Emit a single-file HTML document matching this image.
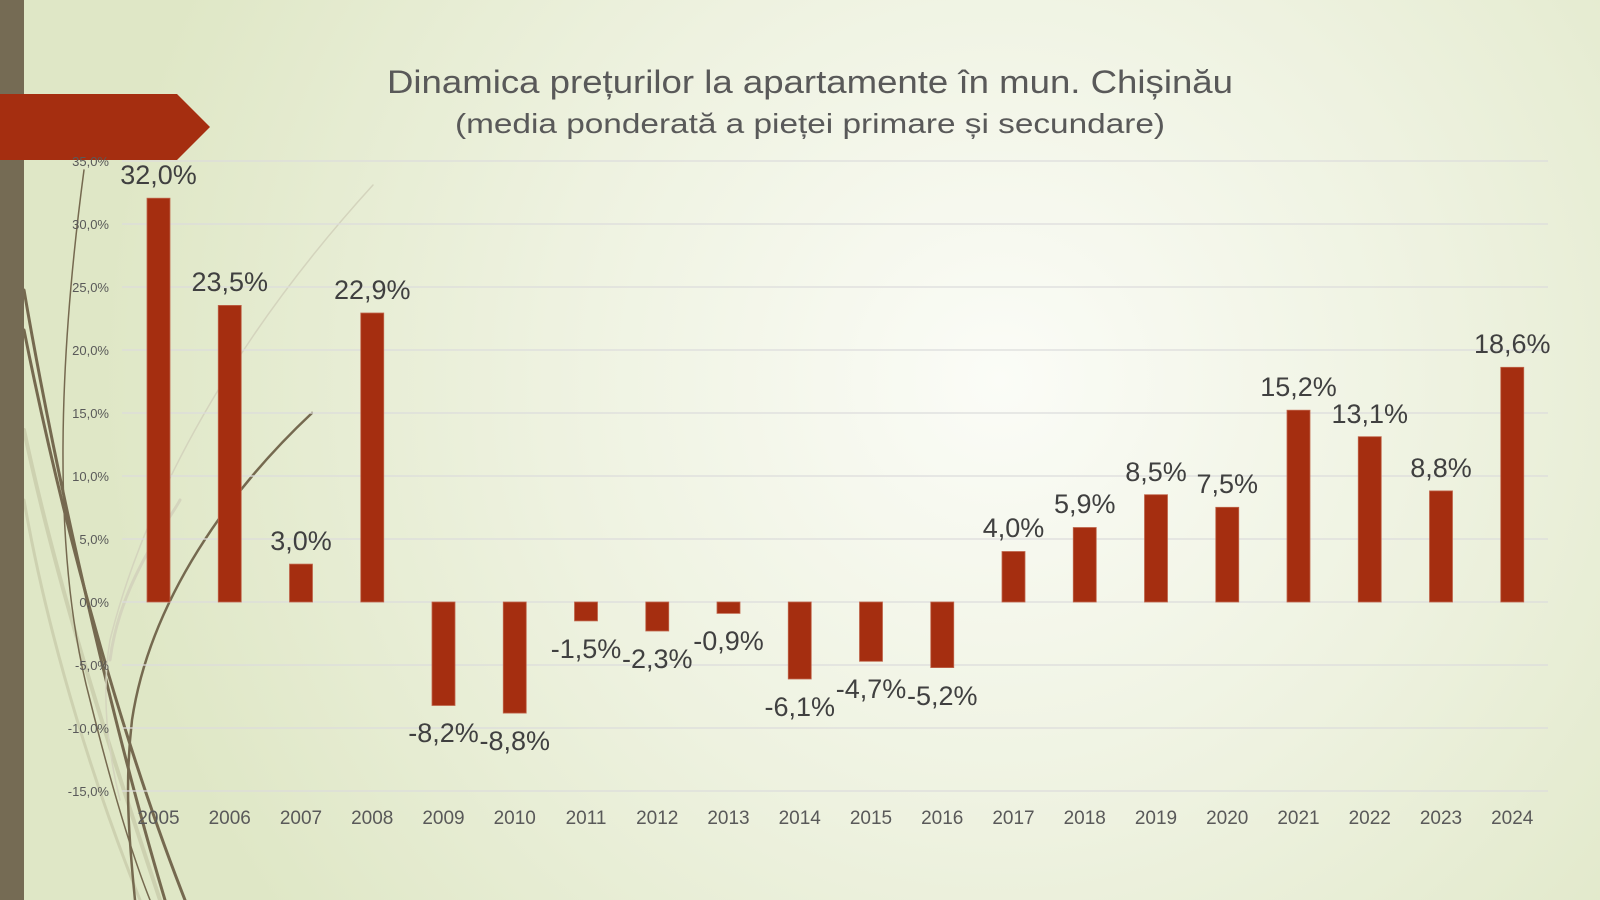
<!DOCTYPE html>
<html><head><meta charset="utf-8"><style>
html,body{margin:0;padding:0;width:1600px;height:900px;overflow:hidden}
svg{display:block}
text{font-family:"Liberation Sans","DejaVu Sans",sans-serif}
</style></head><body>
<svg width="1600" height="900" viewBox="0 0 1600 900" xmlns="http://www.w3.org/2000/svg">
<defs>
<radialGradient id="bg" cx="1000" cy="380" r="900" gradientUnits="userSpaceOnUse">
<stop offset="0" stop-color="#fbfcf7"/>
<stop offset="0.5" stop-color="#eef2e0"/>
<stop offset="1" stop-color="#dfe7c6"/>
</radialGradient>
</defs>
<rect width="1600" height="900" fill="url(#bg)"/>
<g fill="none" stroke-linecap="round">
<path d="M24 430 C60 600 120 780 160 900" stroke="#cdd1b0" stroke-width="4"/>
<path d="M24 500 C50 650 100 800 140 900" stroke="#cdd1b0" stroke-width="3"/>
<path d="M24 290 C60 500 120 750 165 900" stroke="#75694f" stroke-width="3"/>
<path d="M24 330 C70 560 130 760 185 900" stroke="#75694f" stroke-width="3"/>
<path d="M84 170 C60 350 50 550 90 700 C110 780 130 850 150 900" stroke="#75694f" stroke-width="1.5"/>
<path d="M373 185 C250 320 150 480 110 640 C100 700 110 760 120 800" stroke="#d4d4bd" stroke-width="1.5"/>
<path d="M110 660 C120 580 170 520 180 500" stroke="#d4d4bd" stroke-width="3"/>
<path d="M312 413 C230 490 150 600 132 720 C125 780 128 830 135 900" stroke="#75694f" stroke-width="2.5"/>
</g>
<rect x="0" y="0" width="24" height="900" fill="#756b54"/>
<polygon points="0,94 177,94 210,127 177,160 0,160" fill="#a52e10"/>
<text x="810" y="93" text-anchor="middle" font-size="32" fill="#595959" textLength="846" lengthAdjust="spacingAndGlyphs">Dinamica prețurilor la apartamente în mun. Chișinău</text>
<text x="810" y="133" text-anchor="middle" font-size="28" fill="#595959" textLength="710" lengthAdjust="spacingAndGlyphs">(media ponderată a pieței primare și secundare)</text>
<g stroke="#dcdcdc" stroke-width="1.3">
<line x1="122" x2="1548" y1="161" y2="161"/>
<line x1="122" x2="1548" y1="224" y2="224"/>
<line x1="122" x2="1548" y1="287" y2="287"/>
<line x1="122" x2="1548" y1="350" y2="350"/>
<line x1="122" x2="1548" y1="413" y2="413"/>
<line x1="122" x2="1548" y1="476" y2="476"/>
<line x1="122" x2="1548" y1="539" y2="539"/>
<line x1="122" x2="1548" y1="602" y2="602"/>
<line x1="122" x2="1548" y1="665" y2="665"/>
<line x1="122" x2="1548" y1="728" y2="728"/>
<line x1="122" x2="1548" y1="791" y2="791"/>
</g>
<g font-size="13" fill="#595959" text-anchor="end">
<text x="109" y="166">35,0%</text>
<text x="109" y="229">30,0%</text>
<text x="109" y="292">25,0%</text>
<text x="109" y="355">20,0%</text>
<text x="109" y="418">15,0%</text>
<text x="109" y="481">10,0%</text>
<text x="109" y="544">5,0%</text>
<text x="109" y="607">0,0%</text>
<text x="109" y="670">-5,0%</text>
<text x="109" y="733">-10,0%</text>
<text x="109" y="796">-15,0%</text>
</g>
<g fill="#a52e10" stroke="#c0664c" stroke-width="0.8">
<rect x="147" y="198.2" width="23" height="403.8"/>
<rect x="218.25" y="305.4" width="23" height="296.6"/>
<rect x="289.5" y="564.1" width="23" height="37.9"/>
<rect x="360.75" y="313" width="23" height="289"/>
<rect x="432" y="602" width="23" height="103.5"/>
<rect x="503.25" y="602" width="23" height="111.1"/>
<rect x="574.5" y="602" width="23" height="18.9"/>
<rect x="645.75" y="602" width="23" height="29"/>
<rect x="717" y="602" width="23" height="11.4"/>
<rect x="788.25" y="602" width="23" height="77"/>
<rect x="859.5" y="602" width="23" height="59.3"/>
<rect x="930.75" y="602" width="23" height="65.6"/>
<rect x="1002" y="551.5" width="23" height="50.5"/>
<rect x="1073.25" y="527.5" width="23" height="74.5"/>
<rect x="1144.5" y="494.7" width="23" height="107.3"/>
<rect x="1215.75" y="507.3" width="23" height="94.7"/>
<rect x="1287" y="410.2" width="23" height="191.8"/>
<rect x="1358.25" y="436.7" width="23" height="165.3"/>
<rect x="1429.5" y="490.9" width="23" height="111.1"/>
<rect x="1500.75" y="367.3" width="23" height="234.7"/>
</g>
<g font-size="27" fill="#404040" text-anchor="middle">
<text x="158.5" y="184">32,0%</text>
<text x="229.75" y="291">23,5%</text>
<text x="301" y="550">3,0%</text>
<text x="372.25" y="299">22,9%</text>
<text x="443.5" y="742">-8,2%</text>
<text x="514.75" y="750">-8,8%</text>
<text x="586" y="658">-1,5%</text>
<text x="657.25" y="668">-2,3%</text>
<text x="728.5" y="650">-0,9%</text>
<text x="799.75" y="716">-6,1%</text>
<text x="871" y="698">-4,7%</text>
<text x="942.25" y="705">-5,2%</text>
<text x="1013.5" y="537">4,0%</text>
<text x="1084.75" y="513">5,9%</text>
<text x="1156" y="481">8,5%</text>
<text x="1227.25" y="493">7,5%</text>
<text x="1298.5" y="396">15,2%</text>
<text x="1369.75" y="423">13,1%</text>
<text x="1441" y="477">8,8%</text>
<text x="1512.25" y="353">18,6%</text>
</g>
<g font-size="19" fill="#595959" text-anchor="middle">
<text x="158.5" y="824">2005</text>
<text x="229.75" y="824">2006</text>
<text x="301" y="824">2007</text>
<text x="372.25" y="824">2008</text>
<text x="443.5" y="824">2009</text>
<text x="514.75" y="824">2010</text>
<text x="586" y="824">2011</text>
<text x="657.25" y="824">2012</text>
<text x="728.5" y="824">2013</text>
<text x="799.75" y="824">2014</text>
<text x="871" y="824">2015</text>
<text x="942.25" y="824">2016</text>
<text x="1013.5" y="824">2017</text>
<text x="1084.75" y="824">2018</text>
<text x="1156" y="824">2019</text>
<text x="1227.25" y="824">2020</text>
<text x="1298.5" y="824">2021</text>
<text x="1369.75" y="824">2022</text>
<text x="1441" y="824">2023</text>
<text x="1512.25" y="824">2024</text>
</g>
</svg>
</body></html>
